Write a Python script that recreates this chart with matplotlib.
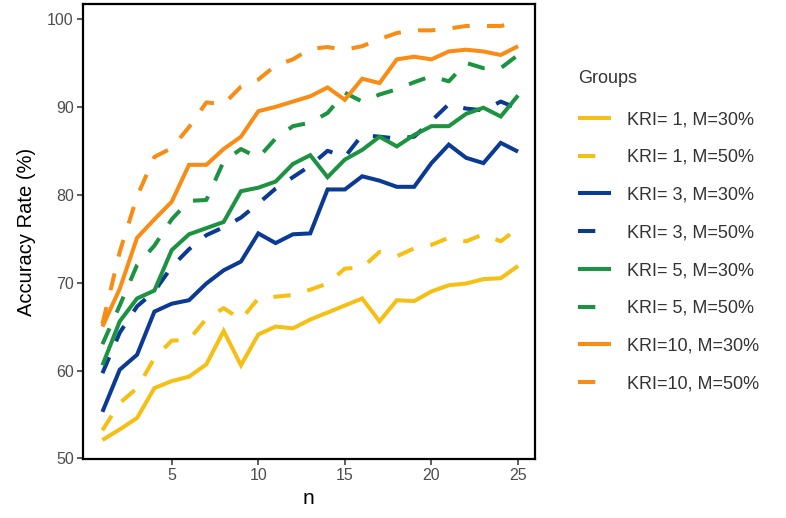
import matplotlib
matplotlib.use("Agg")
import matplotlib.pyplot as plt

plt.rcParams['font.family'] = ['Liberation Sans', 'DejaVu Sans']

n = list(range(1, 26))

kri1_m30 = [52.1, 53.3, 54.6, 58.0, 58.8, 59.3, 60.7, 64.5, 60.6, 64.1, 65.0, 64.8, 65.8, 66.6,
            67.4, 68.2, 65.6, 68.0, 67.9, 69.0, 69.7, 69.9, 70.4, 70.5, 71.9]
kri1_m50 = [53.2, 56.3, 58.0, 61.4, 63.4, 63.5, 65.9, 67.1, 65.8, 68.2, 68.4, 68.6, 69.2, 69.9,
            71.6, 71.7, 73.5, 73.0, 73.9, 74.3, 75.1, 74.7, 75.5, 74.7, 76.2]
kri3_m30 = [55.3, 60.1, 61.8, 66.7, 67.6, 68.0, 69.9, 71.4, 72.4, 75.6, 74.5, 75.5, 75.6, 80.6,
            80.6, 82.1, 81.6, 80.9, 80.9, 83.6, 85.7, 84.2, 83.6, 85.9, 84.9]
kri3_m50 = [59.7, 64.3, 67.3, 69.0, 71.8, 73.8, 75.4, 76.3, 77.4, 79.0, 80.7, 82.0, 83.3, 85.0,
            84.3, 86.8, 86.6, 86.4, 86.6, 88.4, 90.3, 89.8, 89.6, 90.6, 89.8]
kri5_m30 = [60.6, 65.6, 68.2, 69.1, 73.7, 75.5, 76.2, 76.9, 80.4, 80.8, 81.5, 83.5, 84.5, 82.0,
            84.0, 85.1, 86.6, 85.5, 86.8, 87.8, 87.8, 89.2, 89.9, 88.9, 91.3]
kri5_m50 = [63.0, 67.4, 72.0, 74.2, 77.2, 79.3, 79.4, 83.8, 85.2, 84.2, 86.4, 87.8, 88.2, 89.3,
            91.6, 90.6, 91.4, 92.0, 92.8, 93.5, 92.9, 95.0, 94.4, 94.4, 95.9]
kri10_m30 = [65.0, 69.3, 75.1, 77.2, 79.2, 83.4, 83.4, 85.2, 86.6, 89.5, 90.0, 90.6, 91.2, 92.2,
             90.8, 93.2, 92.7, 95.4, 95.7, 95.4, 96.3, 96.5, 96.3, 95.9, 96.9]
kri10_m50 = [65.3, 73.5, 79.8, 84.3, 85.3, 87.7, 90.5, 90.3, 92.3, 93.1, 94.7, 95.4, 96.6, 96.8,
             96.5, 96.9, 97.7, 98.4, 98.7, 98.7, 98.9, 99.2, 99.2, 99.2, 99.6]

labels = ["KRI= 1, M=30%", "KRI= 1, M=50%", "KRI= 3, M=30%", "KRI= 3, M=50%",
          "KRI= 5, M=30%", "KRI= 5, M=50%", "KRI=10, M=30%", "KRI=10, M=50%"]
series = [kri1_m30, kri1_m50, kri3_m30, kri3_m50, kri5_m30, kri5_m50, kri10_m30, kri10_m50]

yellow, blue, green, orange = "#F6BF14", "#0B3A95", "#1B9340", "#F88C14"
colors = [yellow, yellow, blue, blue, green, green, orange, orange]
dashed = [False, True, False, True, False, True, False, True]

fig = plt.figure(figsize=(7.86, 5.18), dpi=100)
ax = fig.add_axes([0.1052, 0.1133, 0.5755, 0.879])

lw = 2.9
handles = []
for ys, c, d, lab in zip(series, colors, dashed, labels):
    line, = ax.plot(n, ys, color=c, lw=lw, solid_capstyle='butt', dash_capstyle='butt',
                    solid_joinstyle='miter', label=lab)
    if d:
        line.set_dashes((4.3, 4.3))
    handles.append(line)

ax.set_xlim(-0.14, 25.98)
ax.set_ylim(49.9, 101.7)
ax.set_xticks([5, 10, 15, 20, 25])
ax.set_yticks([50, 60, 70, 80, 90, 100])
ax.tick_params(axis='both', direction='out', length=4, width=1.1, color='#333333',
               labelsize=11.5, labelcolor='#4D4D4D', pad=2.5)
for s in ax.spines.values():
    s.set_linewidth(1.6)
    s.set_color('black')

ax.set_xlabel("n", fontsize=15, color='black', labelpad=4)
ax.set_ylabel("Accuracy Rate (%)", fontsize=14.5, color='black', labelpad=8)

leg = ax.legend(handles=handles, labels=labels, title="Groups", loc='upper left',
                bbox_to_anchor=(0.7355, 0.864), bbox_transform=fig.transFigure,
                frameon=False, fontsize=13, title_fontsize=13, handlelength=1.8,
                handletextpad=0.9, labelspacing=1.15, alignment='left',
                borderaxespad=0, borderpad=0)
leg._legend_box.sep = 17
for t in leg.get_texts():
    t.set_color('#333333')
leg.get_title().set_color('#333333')

fig.savefig("out.png", dpi=100)
